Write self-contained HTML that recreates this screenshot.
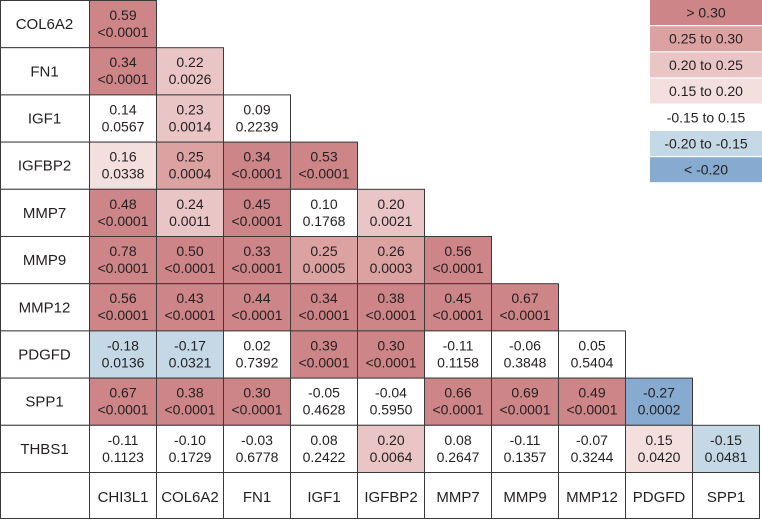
<!DOCTYPE html>
<html><head><meta charset="utf-8">
<style>
body{margin:0;background:#fff;width:762px;height:519px;overflow:hidden;font-family:"Liberation Sans",sans-serif;}
svg text{font-family:"Liberation Sans",sans-serif;fill:#231f20;}
</style></head><body>
<svg id="chart" width="762" height="519"></svg>
<script>
const rowLabels=["COL6A2","FN1","IGF1","IGFBP2","MMP7","MMP9","MMP12","PDGFD","SPP1","THBS1"];
const colLabels=["CHI3L1","COL6A2","FN1","IGF1","IGFBP2","MMP7","MMP9","MMP12","PDGFD","SPP1"];
const rValues=[
[0.59],
[0.34,0.22],
[0.14,0.23,0.09],
[0.16,0.25,0.34,0.53],
[0.48,0.24,0.45,0.10,0.20],
[0.78,0.50,0.33,0.25,0.26,0.56],
[0.56,0.43,0.44,0.34,0.38,0.45,0.67],
[-0.18,-0.17,0.02,0.39,0.30,-0.11,-0.06,0.05],
[0.67,0.38,0.30,-0.05,-0.04,0.66,0.69,0.49,-0.27],
[-0.11,-0.10,-0.03,0.08,0.20,0.08,-0.11,-0.07,0.15,-0.15]];
const pValues=[
["<0.0001"],
["<0.0001","0.0026"],
["0.0567","0.0014","0.2239"],
["0.0338","0.0004","<0.0001","<0.0001"],
["<0.0001","0.0011","<0.0001","0.1768","0.0021"],
["<0.0001","<0.0001","<0.0001","0.0005","0.0003","<0.0001"],
["<0.0001","<0.0001","<0.0001","<0.0001","<0.0001","<0.0001","<0.0001"],
["0.0136","0.0321","0.7392","<0.0001","<0.0001","0.1158","0.3848","0.5404"],
["<0.0001","<0.0001","<0.0001","0.4628","0.5950","<0.0001","<0.0001","<0.0001","0.0002"],
["0.1123","0.1729","0.6778","0.2422","0.0064","0.2647","0.1357","0.3244","0.0420","0.0481"]];
const legendLabels=["> 0.30","0.25 to 0.30","0.20 to 0.25","0.15 to 0.20","-0.15 to 0.15","-0.20 to -0.15","< -0.20"];
const legendColors=["#cd8587","#dca2a2","#eac5c5","#f4dfdf","#ffffff","#c5d8e6","#86aad0"];

const svg=document.getElementById('chart');
const NS="http://www.w3.org/2000/svg";
const x0=89,cw=67,rh=47.2,labelW=89;
const colX=i=>x0+i*cw;
const rowY=i=>i*rh;
function color(r){
  const v=Math.round(r*100)/100;
  if(v>=0.30)return legendColors[0];
  if(v>=0.25)return legendColors[1];
  if(v>=0.20)return legendColors[2];
  if(v>=0.15)return legendColors[3];
  if(v>-0.15)return legendColors[4];
  if(v>=-0.20)return legendColors[5];
  return legendColors[6];
}
function el(tag,attrs,parent){const e=document.createElementNS(NS,tag);for(const k in attrs)e.setAttribute(k,attrs[k]);(parent||svg).appendChild(e);return e;}
function txt(x,y,s,size,parent){const t=el('text',{x:x,y:y,'text-anchor':'middle','font-size':size},parent);t.textContent=s;return t;}

rowLabels.forEach((lab,i)=>{
  const g=el('g',{});
  
  
  el('rect',{x:0.5,y:rowY(i)+0.5,width:labelW,height:rh,fill:'#fff',stroke:'#3a3a3a','stroke-width':1},g);
  txt(labelW/2,rowY(i)+rh/2+5.5,lab,15,g);
  rValues[i].forEach((r,j)=>{
    const c=el('g',{});
    
    
    el('rect',{x:colX(j)+0.5,y:rowY(i)+0.5,width:cw,height:rh,fill:color(r),stroke:'#3a3a3a','stroke-width':1},c);
    txt(colX(j)+cw/2+0.5,rowY(i)+20,r.toFixed(2),14,c);
    txt(colX(j)+cw/2+0.5,rowY(i)+37,pValues[i][j],14,c);
  });
});
const by=rowY(10);
el('rect',{x:0.5,y:by+0.5,width:labelW,height:519-by-1,fill:'#fff',stroke:'#3a3a3a'});
colLabels.forEach((lab,j)=>{
  const g=el('g',{});
  
  
  el('rect',{x:colX(j)+0.5,y:by+0.5,width:cw,height:519-by-1,fill:'#fff',stroke:'#3a3a3a'},g);
  txt(colX(j)+cw/2+0.5,by+30,lab,15,g);
});
legendLabels.forEach((lab,k)=>{
  const g=el('g',{});
  
  
  el('rect',{x:650,y:k*26.2,width:112,height:25,fill:legendColors[k]},g);
  txt(706,k*26.2+17.5,lab,14,g);
});
</script>
</body></html>
